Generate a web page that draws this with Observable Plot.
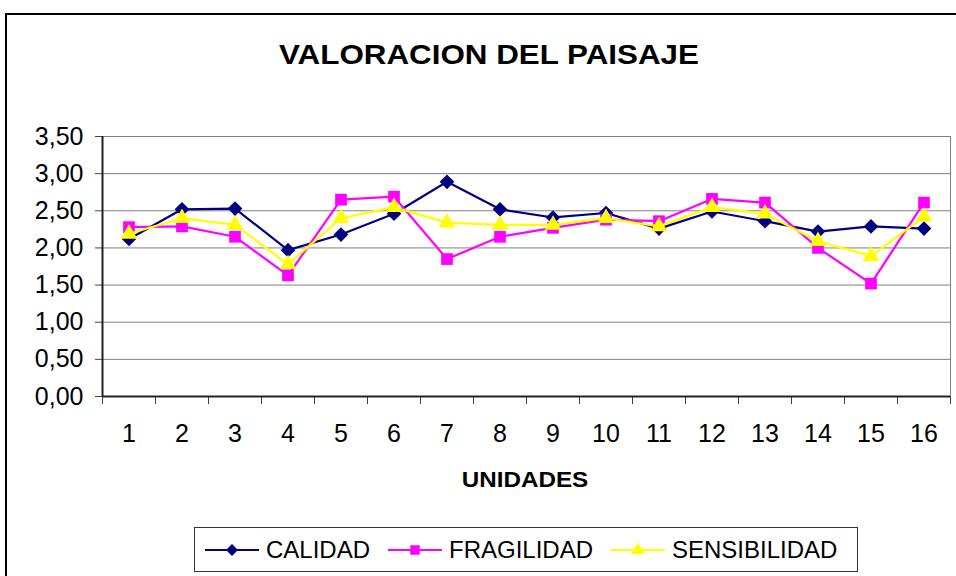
<!DOCTYPE html>
<html>
<head>
<meta charset="utf-8">
<script src="https://cdn.jsdelivr.net/npm/d3@7"></script>
<script src="https://cdn.jsdelivr.net/npm/@observablehq/plot@0.6"></script>
<style>
  html, body { margin: 0; padding: 0; background: #fff; }
  #wrap { position: relative; width: 956px; height: 576px; overflow: hidden; font-family: "Liberation Sans", Arial, sans-serif; background: #fff; }
  #frame { position: absolute; left: 5px; top: 13px; width: 1000px; height: 1000px; border: 2px solid #000; box-sizing: border-box; }
  #title { position: absolute; left: -11px; width: 1000px; top: 41px; text-align: center; font-size: 28px; line-height: 28px; font-weight: bold; color: #000; white-space: nowrap; transform: scaleX(1.12); transform-origin: 500px 0; }
  #xlabel { position: absolute; left: 25px; width: 1000px; top: 469px; text-align: center; font-size: 22px; line-height: 22px; font-weight: bold; color: #000; transform: scaleX(1.1); transform-origin: 500px 0; }
  #chart { position: absolute; left: 0; top: 0; }
  #legend { position: absolute; left: 194px; top: 527px; width: 664px; height: 45px; border: 1px solid #333; box-sizing: border-box; }
  .item { position: absolute; top: 0; height: 43px; display: flex; align-items: center; font-size: 24px; color: #000; white-space: nowrap; }
  .item svg { margin-right: 7px; }
</style>
</head>
<body>
<div id="wrap">
  <div id="frame"></div>
  <div id="chart"></div>
  <div id="title">VALORACION DEL PAISAJE</div>
  <div id="xlabel">UNIDADES</div>
  <div id="legend"></div>
</div>
<script>
// ---- data ----
const unidades = [1, 2, 3, 4, 5, 6, 7, 8, 9, 10, 11, 12, 13, 14, 15, 16];
const calidad = [2.12, 2.52, 2.53, 1.97, 2.18, 2.46, 2.89, 2.52, 2.41, 2.47, 2.26, 2.49, 2.36, 2.22, 2.29, 2.26];
const fragilidad = [2.28, 2.29, 2.15, 1.63, 2.65, 2.69, 1.85, 2.15, 2.27, 2.38, 2.36, 2.66, 2.61, 2.00, 1.52, 2.61];
const sensibilidad = [2.19, 2.40, 2.31, 1.78, 2.40, 2.55, 2.34, 2.31, 2.31, 2.40, 2.29, 2.55, 2.46, 2.09, 1.89, 2.42];
const yTicks = [0, 0.5, 1, 1.5, 2, 2.5, 3, 3.5];
const seriesNames = ["CALIDAD", "FRAGILIDAD", "SENSIBILIDAD"];
const seriesValues = [calidad, fragilidad, sensibilidad];
const seriesColors = ["#000080", "#FF00FF", "#FFFF00"];
const seriesSymbols = ["diamond2", "square", "triangle"];
const seriesR = [6.6, 6.6, 6.2];

const boundaries = unidades.map(u => u - 0.5).concat([unidades[unidades.length - 1] + 0.5]);
const fmt = d => d.toFixed(2).replace(".", ",");

const marks = [
  Plot.gridY(yTicks, {stroke: "#808080", strokeOpacity: 1, strokeWidth: 1}),
  Plot.ruleX([boundaries[boundaries.length - 1]], {stroke: "#808080", strokeWidth: 1}),
  Plot.axisY(yTicks, {tickFormat: fmt, tickSize: 7, tickPadding: 12, fontSize: 25, stroke: "#444", label: null}),
  Plot.axisX(boundaries, {tickFormat: () => "", tickSize: 8, stroke: "#444", label: null}),
  Plot.axisX(unidades, {tickSize: 0, tickPadding: 28, fontSize: 25, label: null}),
  Plot.ruleX([boundaries[0]], {stroke: "#222", strokeWidth: 2}),
  Plot.ruleY([0], {stroke: "#222", strokeWidth: 2})
];

seriesNames.forEach((name, k) => {
  const rows = unidades.map((u, i) => ({unidad: u, valor: seriesValues[k][i], serie: name}));
  marks.push(Plot.line(rows, {x: "unidad", y: "valor", stroke: seriesColors[k], strokeWidth: 2.2}));
  marks.push(Plot.dot(rows, {x: "unidad", y: "valor", fill: seriesColors[k], stroke: "none", symbol: seriesSymbols[k], r: seriesR[k]}));
});

const chart = Plot.plot({
  width: 956,
  height: 576,
  marginLeft: 102,
  marginRight: 6,
  marginTop: 136,
  marginBottom: 180,
  x: {type: "linear", domain: [boundaries[0], boundaries[boundaries.length - 1]]},
  y: {type: "linear", domain: [0, 3.5]},
  style: {fontFamily: "'Liberation Sans', Arial, sans-serif", fontSize: "25px", color: "#000", background: "transparent", overflow: "visible"},
  marks
});
document.getElementById("chart").appendChild(chart);

// ---- legend ----
const legend = document.getElementById("legend");
const itemLefts = [10, 193, 416];
seriesNames.forEach((name, k) => {
  const item = document.createElement("div");
  item.className = "item";
  item.style.left = itemLefts[k] + "px";
  const sym = d3.symbol(
    k === 0 ? d3.symbolDiamond2 : k === 1 ? d3.symbolSquare : d3.symbolTriangle,
    k === 0 ? 90 : k === 1 ? 90 : 80
  )();
  item.innerHTML = `<svg width="54" height="16" viewBox="0 0 54 16"><line x1="0" x2="54" y1="8" y2="8" stroke="${seriesColors[k]}" stroke-width="2.2"/><path transform="translate(27,8)" d="${sym}" fill="${seriesColors[k]}"/></svg><span>${name}</span>`;
  legend.appendChild(item);
});
</script>
</body>
</html>
